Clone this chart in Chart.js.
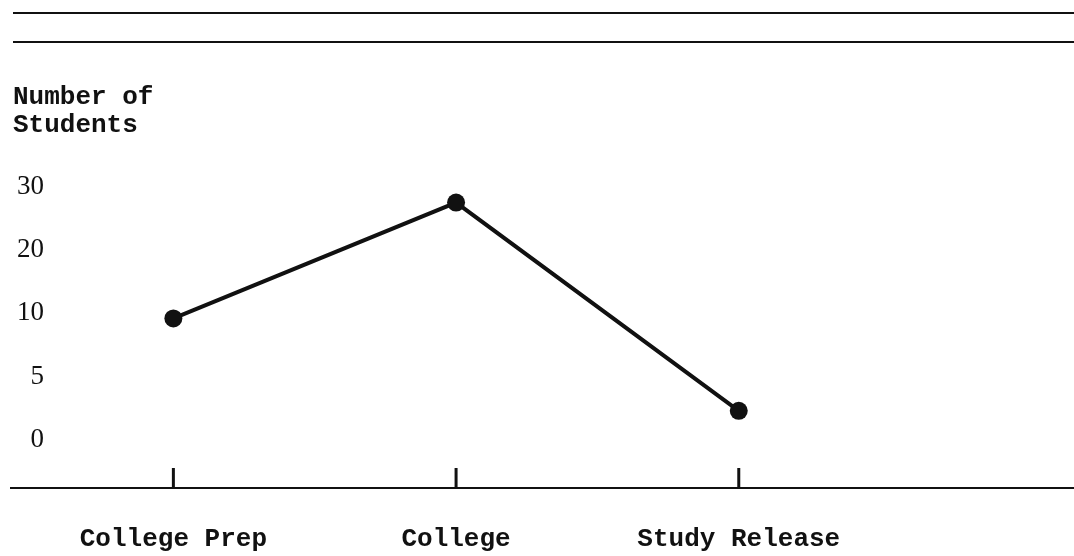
<!DOCTYPE html>
<html>
<head>
<meta charset="utf-8">
<script src="https://cdn.jsdelivr.net/npm/chart.js@4"></script>
<style>
  html,body{margin:0;padding:0;background:#fff;}
  #wrap{width:1074px;height:556px;}
</style>
</head>
<body>
<div id="wrap"><canvas id="chart"></canvas></div>
<script>
const categories = ['College Prep', 'College', 'Study Release'];
const students = [9.6, 27.5, 2.3];
const yTickLabels = [0, 5, 10, 20, 30];

// the y axis is not linear: each printed tick gets the same spacing
function toAxis(v){
    for(let i=0;i<yTickLabels.length-1;i++){
        const a=yTickLabels[i], b=yTickLabels[i+1];
        if(v<=b) return i+(v-a)/(b-a);
    }
    return yTickLabels.length-1;
}

const ink = '#111';
const mono = 'Liberation Mono';

// rules at top, baseline and the short category ticks
const rules = {
    id:'rules',
    afterDraw(chart){
        const ctx=chart.ctx;
        const area=chart.chartArea;
        const xs=chart.scales.x;
        ctx.save();
        ctx.strokeStyle=ink;
        ctx.lineWidth=2;
        [13,42].forEach(y=>{
            ctx.beginPath();
            ctx.moveTo(13,y);
            ctx.lineTo(chart.width,y);
            ctx.stroke();
        });
        ctx.beginPath();
        ctx.moveTo(10,area.bottom);
        ctx.lineTo(chart.width,area.bottom);
        ctx.stroke();
        ctx.lineWidth=3;
        categories.forEach((c,i)=>{
            const px=xs.getPixelForValue(i);
            ctx.beginPath();
            ctx.moveTo(px,area.bottom);
            ctx.lineTo(px,area.bottom-20);
            ctx.stroke();
        });
        ctx.restore();
    }
};

new Chart(document.getElementById('chart'),{
    type:'line',
    data:{
        datasets:[{
            data:students.map((v,i)=>({x:i,y:toAxis(v)})),
            borderColor:ink,
            backgroundColor:ink,
            borderWidth:4,
            pointRadius:9,
            pointHoverRadius:9,
            pointBorderWidth:0,
            tension:0
        }]
    },
    options:{
        responsive:true,
        maintainAspectRatio:false,
        animation:false,
        layout:{padding:{left:13,right:0,top:0,bottom:4}},
        plugins:{
            legend:{display:false},
            tooltip:{enabled:false},
            title:{
                display:true,
                text:['Number of','Students'],
                align:'start',
                color:ink,
                font:{family:mono,size:26,weight:'bold',lineHeight:1.08},
                padding:{top:83,bottom:16}
            }
        },
        scales:{
            x:{
                type:'linear',
                min:-0.4435,
                max:3.154,
                afterBuildTicks:s=>{s.ticks=categories.map((c,i)=>({value:i}));},
                afterFit:s=>{s.height=64;},
                grid:{display:false,drawTicks:false},
                border:{display:false},
                ticks:{
                    color:ink,
                    padding:36,
                    maxRotation:0,
                    font:{family:mono,size:26,weight:'bold'},
                    callback:v=>categories[v]
                }
            },
            y:{
                type:'linear',
                min:-0.76,
                max:4.5,
                afterBuildTicks:s=>{s.ticks=yTickLabels.map((t,i)=>({value:i}));},
                grid:{display:false,drawTicks:false},
                border:{display:false},
                ticks:{
                    color:ink,
                    padding:4,
                    font:{family:'Liberation Serif',size:27},
                    callback:v=>yTickLabels[v]
                }
            }
        }
    },
    plugins:[rules]
});
</script>
</body>
</html>
